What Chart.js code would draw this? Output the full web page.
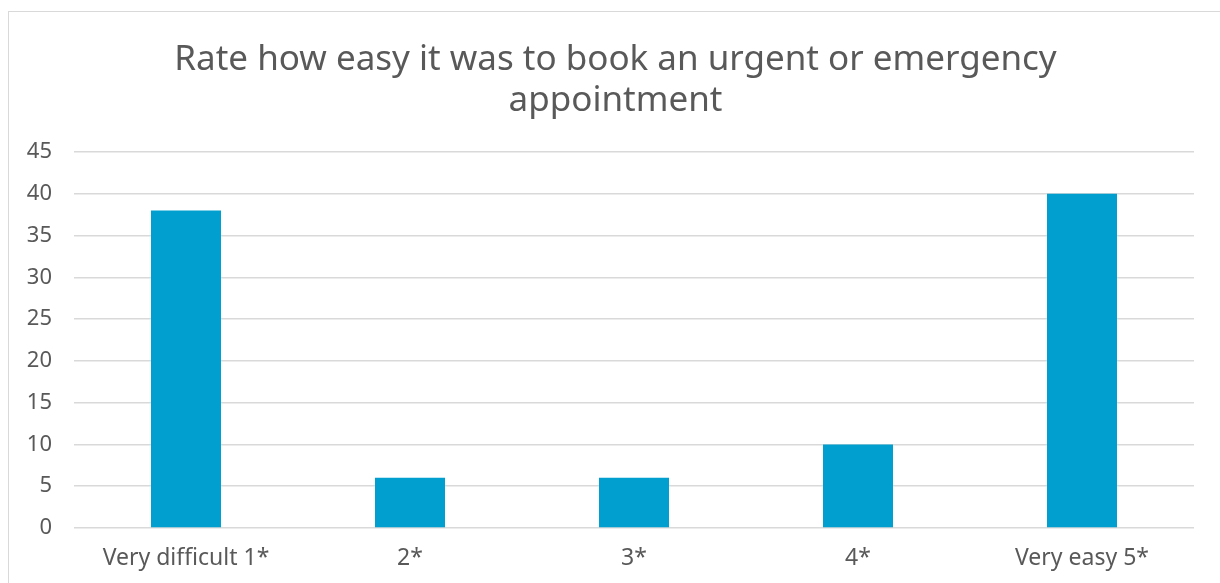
<!DOCTYPE html>
<html>
<head>
<meta charset="utf-8">
<script src="https://cdn.jsdelivr.net/npm/chart.js@4"></script>
<style>
  html, body { margin: 0; padding: 0; background: #fff; }
  #frame {
    position: absolute; left: 8px; top: 11px;
    width: 1220px; height: 580px;
    border: 1px solid #d9d9d9; box-sizing: border-box;
  }
  #wrap { position: absolute; left: 1px; top: 1px; width: 1211px; height: 571px; }
</style>
</head>
<body>
<div id="frame"><div id="wrap"><canvas id="rateChart"></canvas></div></div>
<script>
var categories = ['Very difficult 1*', '2*', '3*', '4*', 'Very easy 5*'];
var responses = [38, 6, 6, 10, 40];
var titleLines = ['Rate how easy it was to book an urgent or emergency', 'appointment'];

var textColor = '#595959';
var fontFamily = '"Noto Sans", "Open Sans", sans-serif';

var ctx = document.getElementById('rateChart').getContext('2d');
var chart = new Chart(ctx, {
  type: 'bar',
  data: {
    labels: categories,
    datasets: [{
      label: 'Responses',
      data: responses,
      backgroundColor: '#009fd0',
      borderWidth: 0,
      categoryPercentage: 1,
      barPercentage: 0.3125
    }]
  },
  options: {
    responsive: true,
    maintainAspectRatio: false,
    animation: false,
    layout: { padding: 0 },
    plugins: {
      legend: { display: false },
      tooltip: { enabled: false },
      title: {
        display: true,
        text: titleLines,
        color: textColor,
        font: { family: fontFamily, size: 35, weight: 'normal', lineHeight: 1.17 },
        padding: { top: 27, bottom: 30 }
      }
    },
    scales: {
      x: {
        grid: { display: false, drawTicks: false },
        border: { display: false },
        ticks: { color: textColor, font: { family: fontFamily, size: 23 }, padding: 17, maxRotation: 0 },
        afterFit: function(scale) { scale.height = 56; }
      },
      y: {
        min: 0,
        max: 45,
        ticks: { stepSize: 5, color: textColor, font: { family: fontFamily, size: 22 }, padding: 22 },
        grid: { color: '#d9d9d9', lineWidth: 1.5, drawTicks: false },
        border: { display: false },
        afterFit: function(scale) { scale.width = 64; }
      },
      // empty right-hand axis keeps the title centred on the whole chart
      yRight: {
        position: 'right',
        display: true,
        grid: { display: false, drawTicks: false },
        border: { display: false },
        ticks: { display: false },
        afterFit: function(scale) { scale.width = 27; }
      }
    }
  }
});
</script>
</body>
</html>
